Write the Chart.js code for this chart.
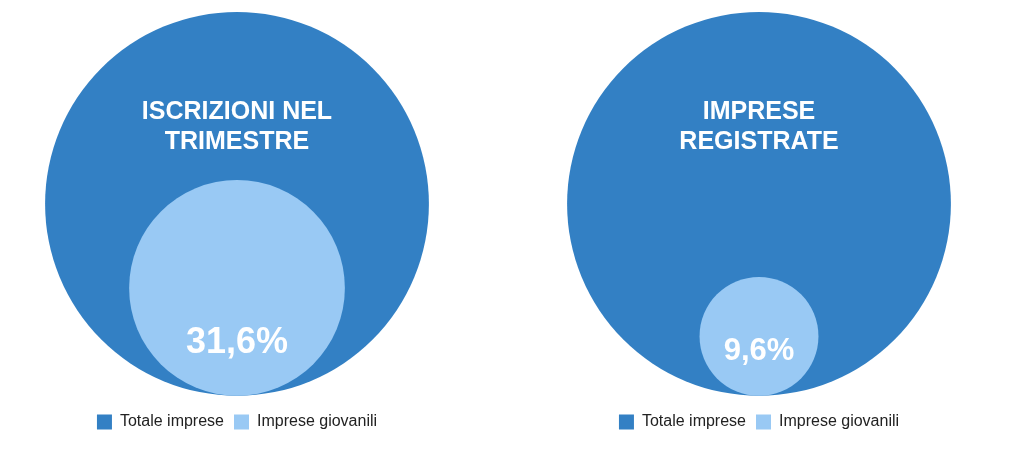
<!DOCTYPE html>
<html>
<head>
<meta charset="utf-8">
<script src="https://cdn.jsdelivr.net/npm/chart.js@4"></script>
<style>
  body { margin: 0; background: #fff; width: 1024px; height: 450px; position: relative; overflow: hidden; }
  .box { position: absolute; top: 0; width: 474px; height: 450px; }
</style>
</head>
<body>
<div class="box" style="left:0"><canvas id="chartLeft" width="474" height="450"></canvas></div>
<div class="box" style="left:522px"><canvas id="chartRight" width="474" height="450"></canvas></div>
<script>
var seriesLabels = ["Totale imprese", "Imprese giovanili"];
var titles = [["ISCRIZIONI NEL", "TRIMESTRE"], ["IMPRESE", "REGISTRATE"]];
var youngShare = [31.6, 9.6];          // % imprese giovanili
var shareText = ["31,6%", "9,6%"];
var colorTotal = "#3380c4";
var colorYoung = "#99c9f4";

Chart.defaults.font.family = "'Liberation Sans', Arial, sans-serif";

function makeChart(id, idx) {
    var rs = Math.sqrt(youngShare[idx] / 100);
    var radiusFn = function (c) {
        var y = c.chart.scales.y;
        if (!y || !c.raw) return 0;
        return c.raw.size * (y.getPixelForValue(0) - y.getPixelForValue(1));
    };
    var labelPlugin = {
        id: "labels" + idx,
        afterDatasetsDraw: function (chart) {
            var c = chart.ctx, x = chart.scales.x, y = chart.scales.y;
            c.save();
            c.fillStyle = "#fff";
            c.textAlign = "center";
            c.textBaseline = "middle";
            c.font = "bold 25px 'Liberation Sans', Arial, sans-serif";
            c.fillText(titles[idx][0], x.getPixelForValue(0), y.getPixelForValue(0.48));
            c.fillText(titles[idx][1], x.getPixelForValue(0), y.getPixelForValue(0.32));
            c.font = "bold " + (idx === 0 ? 36 : 31) + "px 'Liberation Sans', Arial, sans-serif";
            c.fillText(shareText[idx], x.getPixelForValue(0), y.getPixelForValue(idx === 0 ? -0.725 : -0.77));
            c.restore();
        }
    };
    return new Chart(document.getElementById(id).getContext("2d"), {
        type: "scatter",
        data: {
            datasets: [{
                label: seriesLabels[0],
                order: 2,
                backgroundColor: colorTotal,
                pointBackgroundColor: colorTotal,
                pointBorderWidth: 0,
                pointRadius: radiusFn,
                clip: false,
                data: [{ x: 0, y: 0, size: 1 }],
            }, {
                label: seriesLabels[1],
                order: 1,
                backgroundColor: colorYoung,
                pointBackgroundColor: colorYoung,
                pointBorderWidth: 0,
                pointRadius: radiusFn,
                clip: false,
                data: [{ x: 0, y: -(1 - rs), size: rs }],
            }],
        },
        options: {
            responsive: false,
            animation: false,
            events: [],
            layout: { padding: { top: 12, bottom: 10 } },
            scales: {
                x: { display: false, min: -1, max: 1 },
                y: { display: false, min: -1, max: 1 },
            },
            plugins: {
                legend: {
                    position: "bottom",
                    title: { display: true, text: " ", font: { size: 1 }, padding: { top: 0, bottom: 7 } },
                    labels: {
                        boxWidth: 15, boxHeight: 15, color: "#222", font: { size: 16 }, padding: 10,
                        sort: function (a, b) { return a.datasetIndex - b.datasetIndex; },
                    },
                },
                tooltip: { enabled: false },
            },
        },
        plugins: [labelPlugin],
    });
}

makeChart("chartLeft", 0);
makeChart("chartRight", 1);
</script>
</body>
</html>
